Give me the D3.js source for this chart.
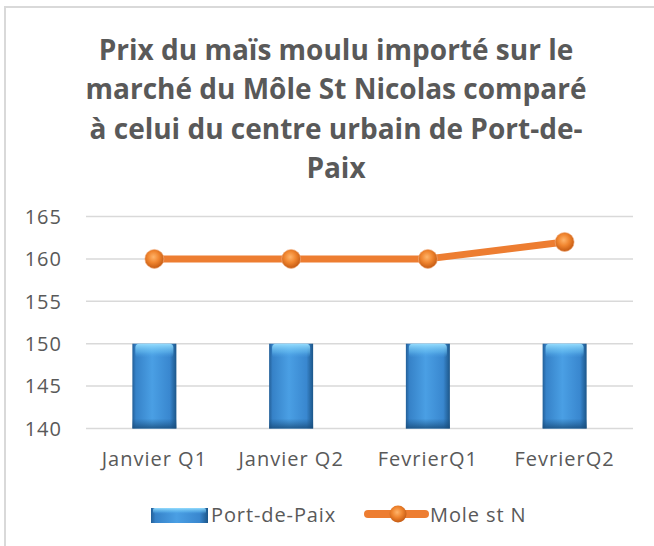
<!DOCTYPE html>
<html><head><meta charset="utf-8">
<script src="https://cdn.jsdelivr.net/npm/d3@7"></script>
<style>
html,body{margin:0;padding:0;background:#fff;}
svg{display:block;}
</style></head>
<body>
<svg id="chart" width="654" height="546"></svg>
<script>
const titleLines = ["Prix du maïs moulu importé sur le", "marché du Môle St Nicolas comparé", "à celui du centre urbain de Port-de-", "Paix"];
const categories = ["Janvier Q1", "Janvier Q2", "FevrierQ1", "FevrierQ2"];
const portDePaix = [150, 150, 150, 150];
const moleStN = [160, 160, 160, 162];
const yTicks = [140, 145, 150, 155, 160, 165];
const seriesNames = ["Port-de-Paix", "Mole st N"];

const svg = d3.select("#chart");
const defs = svg.append("defs");
const FONT = "'Open Sans', 'Liberation Sans', sans-serif";
const TXT = "#595959";

// gradients
const bg = defs.append("linearGradient").attr("id","barGrad").attr("x1","0").attr("x2","1").attr("y1","0").attr("y2","0");
[["0%","#235f98"],["8%","#3682c8"],["45%","#4a9fe4"],["85%","#3987cf"],["100%","#1c5689"]].forEach(s=>bg.append("stop").attr("offset",s[0]).attr("stop-color",s[1]));
const hg = defs.append("linearGradient").attr("id","hiGrad").attr("x1","0").attr("x2","0").attr("y1","0").attr("y2","1");
[["0%","#9ae0ff",0.95],["60%","#6cc4f5",0.5],["100%","#4aa0e6",0]].forEach(s=>hg.append("stop").attr("offset",s[0]).attr("stop-color",s[1]).attr("stop-opacity",s[2]));
const bt = defs.append("linearGradient").attr("id","botGrad").attr("x1","0").attr("x2","0").attr("y1","0").attr("y2","1");
[["0%","#1c5689",0],["100%","#174a78",0.8]].forEach(s=>bt.append("stop").attr("offset",s[0]).attr("stop-color",s[1]).attr("stop-opacity",s[2]));
const mg = defs.append("radialGradient").attr("id","mkGrad").attr("cx","0.45").attr("cy","0.4").attr("r","0.6");
[["0%","#ffb46a"],["50%","#f0852f"],["100%","#c45a12"]].forEach(s=>mg.append("stop").attr("offset",s[0]).attr("stop-color",s[1]));

// border
svg.append("rect").attr("x",5).attr("y",7).attr("width",700).attr("height",600)
  .attr("fill","none").attr("stroke","#d9d9d9").attr("stroke-width",2);

// title
const title = svg.append("text").attr("text-anchor","middle").attr("fill",TXT)
  .style("font-family",FONT).style("font-weight","bold").style("font-size","28px");
titleLines.forEach((l,i)=>title.append("tspan").attr("x",336).attr("y",60+i*39.3).text(l));

// scales
const x = d3.scaleBand().domain(categories).range([86,633]).padding(0);
const y = d3.scaleLinear().domain([140,165]).range([428.5,216.5]);

// gridlines
svg.append("g").selectAll("line").data(yTicks).join("line")
  .attr("x1",86).attr("x2",633).attr("y1",d=>y(d)).attr("y2",d=>y(d))
  .attr("stroke","#d9d9d9").attr("stroke-width",1.5);

// y axis labels
const yAxis = d3.axisLeft(y).tickValues(yTicks).tickSize(0).tickPadding(0);
const ya = svg.append("g").attr("transform","translate(62,0)").call(yAxis);
ya.select(".domain").remove();
ya.selectAll("text").attr("fill",TXT).style("font-family",FONT).style("font-size","20px")
  .style("letter-spacing","1px").attr("dy","0.34em");

// x axis labels
const xAxis = d3.axisBottom(x).tickSize(0).tickPadding(0);
const xa = svg.append("g").attr("transform","translate(0,452)").call(xAxis);
xa.select(".domain").remove();
xa.selectAll("text").attr("fill",TXT).style("font-family",FONT).style("font-size","20px")
  .style("letter-spacing","1px").attr("dy","0.71em");

// bars
const bw = 44;
const bars = svg.append("g").selectAll("g").data(portDePaix).join("g");
bars.append("rect").attr("x",(d,i)=>x(categories[i])+x.bandwidth()/2-bw/2).attr("width",bw)
  .attr("y",d=>y(d)).attr("height",d=>y(140)-y(d)).attr("fill","url(#barGrad)");
bars.append("rect").attr("x",(d,i)=>x(categories[i])+x.bandwidth()/2-bw/2+3).attr("width",bw-6)
  .attr("y",d=>y(d)).attr("height",14).attr("rx",4).attr("fill","url(#hiGrad)");
bars.append("rect").attr("x",(d,i)=>x(categories[i])+x.bandwidth()/2-bw/2).attr("width",bw)
  .attr("y",d=>y(140)-10).attr("height",10).attr("fill","url(#botGrad)");

// line
const line = d3.line().x((d,i)=>x(categories[i])+x.bandwidth()/2).y(d=>y(d));
svg.append("path").datum(moleStN).attr("d",line).attr("fill","none")
  .attr("stroke","#ed7d31").attr("stroke-width",7).attr("stroke-linejoin","round");
svg.append("g").selectAll("circle").data(moleStN).join("circle")
  .attr("cx",(d,i)=>x(categories[i])+x.bandwidth()/2).attr("cy",d=>y(d)).attr("r",9.5)
  .attr("fill","url(#mkGrad)").attr("stroke","#f4b183").attr("stroke-width",1).attr("stroke-opacity",0.6);

// legend
const lg = svg.append("g");
lg.append("rect").attr("x",151).attr("y",508).attr("width",57).attr("height",15).attr("fill","url(#barGrad)");
lg.append("rect").attr("x",153).attr("y",508).attr("width",53).attr("height",6).attr("rx",2).attr("fill","url(#hiGrad)");
lg.append("text").attr("x",211).attr("y",522).text(seriesNames[0]).attr("fill",TXT)
  .style("font-family",FONT).style("font-size","20px").style("letter-spacing","0.9px");
lg.append("line").attr("x1",368).attr("x2",425).attr("y1",514).attr("y2",514)
  .attr("stroke","#ed7d31").attr("stroke-width",8).attr("stroke-linecap","round");
lg.append("circle").attr("cx",398).attr("cy",514).attr("r",8.5).attr("fill","url(#mkGrad)");
lg.append("text").attr("x",430).attr("y",522).text(seriesNames[1]).attr("fill",TXT)
  .style("font-family",FONT).style("font-size","20px").style("letter-spacing","0.9px");
</script>
</body></html>
